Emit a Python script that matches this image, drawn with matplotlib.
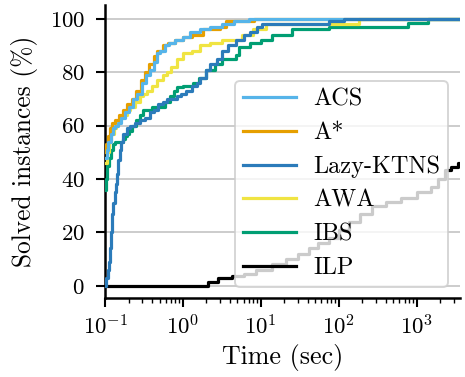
import matplotlib
matplotlib.use("Agg")
import matplotlib.pyplot as plt
from matplotlib.ticker import LogLocator, FixedLocator

plt.rcParams["font.family"] = ["cmr10", "DejaVu Serif"]
plt.rcParams["mathtext.fontset"] = "cm"
plt.rcParams["axes.formatter.use_mathtext"] = True

labels = ["ACS", "A*", "Lazy-KTNS", "AWA", "IBS", "ILP"]
colors = ["#56B4E9", "#E69F00", "#2b7bba", "#F0E442", "#009E73", "#000000"]

acs_t = [0.1, 0.105, 0.11, 0.118, 0.125, 0.135, 0.147, 0.16, 0.18, 0.2, 0.228, 0.26, 0.3, 0.34,
         0.376, 0.42, 0.46, 0.5, 0.58, 0.67, 0.8, 1.0, 1.22, 1.64, 2.2, 3.2, 4.5, 7.0]
acs_v = [48, 51, 54, 57, 59, 60, 61, 63, 65, 67, 70, 72, 76, 79,
         81, 84, 87, 88, 90, 91, 92, 93, 95, 96, 97, 98, 99, 100]

astar_t = [0.1, 0.103, 0.108, 0.114, 0.122, 0.134, 0.15, 0.17, 0.19, 0.22, 0.25, 0.29, 0.33,
           0.37, 0.42, 0.47, 0.55, 0.65, 0.8, 1.0, 1.3, 1.8, 3.0, 3.6, 8.2]
astar_v = [50, 53, 56, 59, 61, 62, 64, 66, 68, 70, 73, 77, 80,
           83, 86, 88, 90, 91, 92, 93, 94, 96, 97, 99, 100]

lazy_t = [0.1, 0.104, 0.108, 0.112, 0.116, 0.12, 0.124, 0.128, 0.133, 0.138, 0.143, 0.148,
          0.155, 0.162, 0.17, 0.19, 0.21, 0.24, 0.28, 0.33, 0.376, 0.42, 0.475, 0.55, 0.62,
          0.7, 0.83, 0.95, 1.11, 1.3, 1.5, 1.64, 2.0, 2.2, 2.7, 3.2, 3.8, 4.8, 6.0, 7.2, 9.0,
          10.4, 74, 116]
lazy_v = [0, 3, 6, 9, 14, 20, 27, 31, 35, 38, 42, 47,
          51, 54, 57, 59, 60, 61, 62, 63, 65, 66, 68, 69, 70,
          70, 71, 72, 73, 75, 76, 78, 81, 83, 85, 88, 90, 92, 94, 95, 97,
          98, 99, 100]

awa_t = [0.1, 0.105, 0.112, 0.12, 0.13, 0.14, 0.155, 0.17, 0.19, 0.21, 0.24, 0.28, 0.31, 0.344,
         0.4, 0.47, 0.55, 0.617, 0.7, 0.83, 1.0, 1.3, 1.64, 2.2, 3.2, 4.5, 5.8, 8.0, 11.7, 180]
awa_v = [46, 50, 54, 57, 59, 61, 63, 64, 66, 67, 69, 71, 72, 73,
         75, 77, 79, 80, 82, 85, 87, 88, 90, 91, 92, 92, 94, 96, 98, 100]

ibs_t = [0.1, 0.103, 0.106, 0.113, 0.118, 0.125, 0.134, 0.17, 0.18, 0.191, 0.205, 0.221, 0.25,
         0.28, 0.306, 0.4, 0.58, 0.675, 0.76, 0.83, 1.0, 1.33, 1.6, 2.0, 2.6, 3.2, 4.8, 5.2,
         7.2, 10, 14, 25, 74, 780, 1400]
ibs_v = [36, 40, 45, 48, 51, 53, 54, 55, 56, 57, 58, 60, 62,
         64, 66, 67, 69, 71, 73, 74.5, 75, 76, 78, 81, 83, 85, 86.5, 89.5,
         91, 92, 94, 96, 97, 98.5, 100]

ilp_t = [0.1, 2.1, 2.8, 4.3, 6, 8.7, 14, 21, 30, 41.5, 55, 75, 100, 135, 190, 265, 400, 640,
         1000, 1545, 1900, 2330, 2800, 3420]
ilp_v = [0, 1.5, 3, 3.5, 4.5, 6, 8, 10, 12, 14, 16, 18, 21, 24, 27, 30, 31.5, 33,
         35, 37, 40, 43.5, 44.5, 46]

series = [(acs_t, acs_v), (astar_t, astar_v), (lazy_t, lazy_v),
          (awa_t, awa_v), (ibs_t, ibs_v), (ilp_t, ilp_v)]
zorders = [6, 5, 7, 4, 3, 2]

x_max = 3600
yticks = [0, 20, 40, 60, 80, 100]

fig = plt.figure(figsize=(4.65, 3.77), dpi=100)
ax = fig.add_axes([0.226, 0.21, 0.763, 0.777])

for (t, v), lab, c, z in zip(series, labels, colors, zorders):
    tt = list(t) + [x_max]
    vv = list(v) + [v[-1]]
    ax.step(tt, vv, where="post", color=c, lw=2.3, label=lab, zorder=z)

ax.set_xscale("log")
ax.set_xlim(0.1, x_max)
ax.set_ylim(-4.5, 105.2)
ax.yaxis.set_major_locator(FixedLocator(yticks))
ax.xaxis.set_major_locator(LogLocator(base=10, numticks=10))
ax.xaxis.set_minor_locator(LogLocator(base=10, subs=range(2, 10), numticks=20))

ax.grid(axis="y", color="#cccccc", lw=1.4, zorder=0)
ax.set_axisbelow(True)
for s in ["top", "right"]:
    ax.spines[s].set_visible(False)
for s in ["left", "bottom"]:
    ax.spines[s].set_linewidth(1.8)

ax.tick_params(axis="both", which="major", length=6.5, width=1.5, labelsize=16.5)
ax.tick_params(axis="y", which="major", pad=8)
ax.tick_params(axis="x", which="major", pad=5)
ax.tick_params(axis="x", which="minor", length=3.5, width=1.0)

ax.set_xlabel("Time (sec)", fontsize=18.7)
ax.set_ylabel("Solved instances (%)", fontsize=18.3, labelpad=8)

leg = ax.legend(loc="lower right", bbox_to_anchor=(0.966, 0.0375), borderaxespad=0,
                fontsize=17.5, handlelength=2.18, handletextpad=0.7, labelspacing=0.47,
                borderpad=0.32, framealpha=0.8, edgecolor="#cccccc", fancybox=True)
leg.get_frame().set_linewidth(1.4)
leg.set_zorder(10)

fig.savefig("out.png", dpi=100)
